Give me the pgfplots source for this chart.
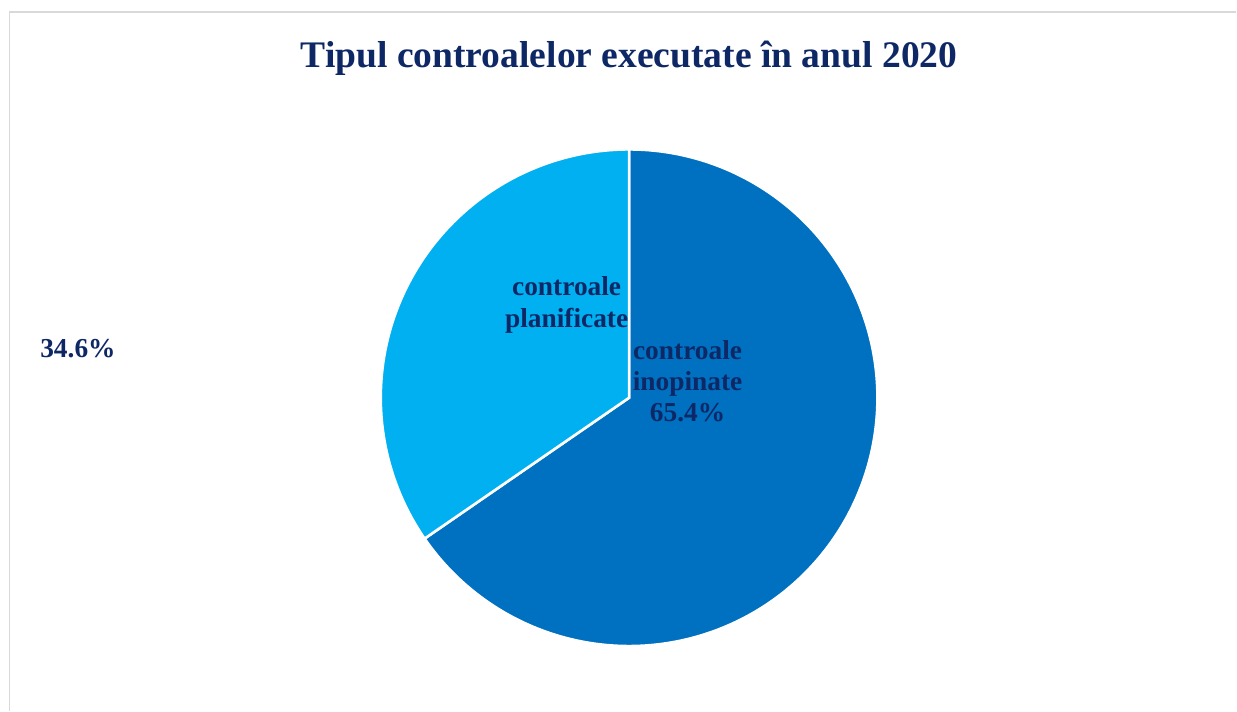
\documentclass[border=0pt]{standalone}
\usepackage{pgfplots}
\pgfplotsset{compat=1.18}
\usepackage{fontspec}
\setmainfont{Liberation Serif}
\definecolor{pieA}{HTML}{0070C0}
\definecolor{pieB}{HTML}{00B0F0}
\definecolor{navy}{HTML}{0E2866}
\definecolor{frame}{HTML}{D9D9D9}
% shares in percent
\def\valInop{65.4}
\def\valPlan{34.6}
\begin{document}
\begin{tikzpicture}
\begin{axis}[
  width=1237bp, height=711bp, scale only axis,
  xmin=0, xmax=1237, ymin=0, ymax=711,
  hide axis, clip=false,
]
\path (axis cs:0,0) rectangle (axis cs:1237,711);
\draw[frame, line width=1.6bp] (axis cs:9.5,0) -- (axis cs:9.5,699) -- (axis cs:1237,699);
% slices
\addplot[fill=pieA, draw=white, line width=2.6bp, domain={90-3.6*\valInop}:90, samples=120, smooth]
  ({629.5+248.5*cos(x)}, {313+248.5*sin(x)}) -- (axis cs:629.5,313) -- cycle;
\addplot[fill=pieB, draw=white, line width=2.6bp, domain=90:{90+3.6*\valPlan}, samples=80, smooth]
  ({629.5+248.5*cos(x)}, {313+248.5*sin(x)}) -- (axis cs:629.5,313) -- cycle;
% title
\node[anchor=base, text=navy, font=\fontsize{37.7}{44}\selectfont\bfseries] at (axis cs:629.5,643) {Tipul controalelor executate în anul 2020};
% labels
\node[anchor=base, text=navy, font=\fontsize{27.5}{32}\selectfont\bfseries] at (axis cs:567,415) {controale};
\node[anchor=base, text=navy, font=\fontsize{27.5}{32}\selectfont\bfseries] at (axis cs:567,383) {planificate};
\node[anchor=base, text=navy, font=\fontsize{27.5}{32}\selectfont\bfseries] at (axis cs:688,351) {controale};
\node[anchor=base, text=navy, font=\fontsize{27.5}{32}\selectfont\bfseries] at (axis cs:688,320) {inopinate};
\node[anchor=base, text=navy, font=\fontsize{27.5}{32}\selectfont\bfseries] at (axis cs:688,289) {\valInop\%};
\node[anchor=base, text=navy, font=\fontsize{27.5}{32}\selectfont\bfseries] at (axis cs:78,353) {\valPlan\%};
\end{axis}
\end{tikzpicture}
\end{document}
